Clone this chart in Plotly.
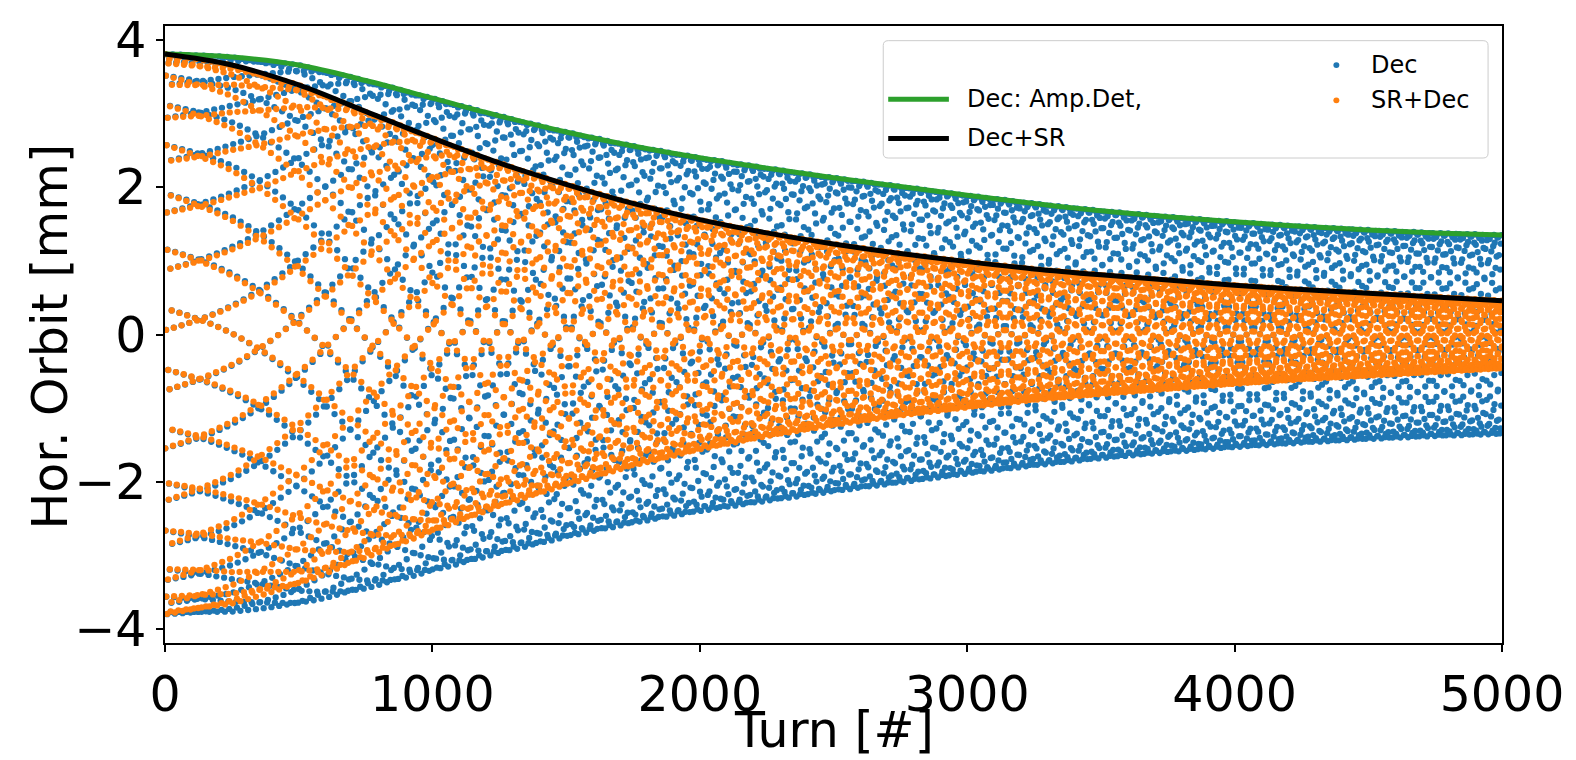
import numpy as np
import plotly.graph_objects as go

# ---- data ----
turns_env = [0, 250, 500, 750, 1000, 1250, 1500, 1750, 2000, 2250, 2500,
             2750, 3000, 3250, 3500, 3750, 4000, 4250, 4500, 4750, 5000]
env_dec = [3.81, 3.77, 3.66, 3.45, 3.21, 2.97, 2.75, 2.56, 2.40, 2.26, 2.13,
           2.01, 1.89, 1.78, 1.68, 1.60, 1.53, 1.47, 1.42, 1.38, 1.35]
env_sr = [3.81, 3.66, 3.39, 3.03, 2.67, 2.33, 2.04, 1.78, 1.56, 1.38, 1.23,
          1.10, 0.99, 0.89, 0.81, 0.74, 0.67, 0.61, 0.56, 0.51, 0.46]
tune_bare = 0.31        # fractional betatron tune
tune_shift0 = 0.0003    # initial (amplitude-detuned) tune shift of the centroid
tau_shift = 700         # turns over which the centroid tune relaxes
phase0 = 0.0062         # initial phase (cycles)
n_turns = 5000
x_ticks = [0, 1000, 2000, 3000, 4000, 5000]
y_ticks = [-4, -2, 0, 2, 4]

turns = np.arange(0, n_turns + 1)
phase = (tune_bare * turns + tune_shift0 * tau_shift * np.arctan(turns / tau_shift)
         + phase0)
osc = np.cos(2 * np.pi * phase)
amp_dec = np.interp(turns, turns_env, env_dec)
amp_sr = np.interp(turns, turns_env, env_sr)
orbit_dec = amp_dec * osc
orbit_sr = amp_sr * osc

# ---- layout geometry (pixels) ----
W, H = 1576, 760
L, R, T, B = 165, 1509, 12, 643
PW, PH = R - L, B - T


def px(x):
    return (x - L) / PW


def py(y):
    return (B - y) / PH


BLUE, ORANGE, GREEN = "#1f77b4", "#ff7f0e", "#2ca02c"
FONT = "DejaVu Sans"

fig = go.Figure()
fig.add_trace(go.Scatter(x=turns, y=orbit_dec, mode="markers", name="Dec",
                         marker=dict(color=BLUE, size=6.3, line=dict(width=0))))
fig.add_trace(go.Scatter(x=turns, y=orbit_sr, mode="markers", name="SR+Dec",
                         marker=dict(color=ORANGE, size=6.3, line=dict(width=0))))
fig.add_trace(go.Scatter(x=turns_env, y=env_dec, mode="lines", name="Dec: Amp.Det,",
                         line=dict(color=GREEN, width=5, shape="spline")))
fig.add_trace(go.Scatter(x=turns_env, y=env_sr, mode="lines", name="Dec+SR",
                         line=dict(color="black", width=5, shape="spline")))

shapes = []
annotations = []

# legend box with rounded corners
x0, x1, y0, y1, r = 887, 1495, 27, 147, 5
path = (f"M {px(x0 + r)},{py(y0)} L {px(x1 - r)},{py(y0)} "
        f"Q {px(x1)},{py(y0)} {px(x1)},{py(y0 + r)} "
        f"L {px(x1)},{py(y1 - r)} Q {px(x1)},{py(y1)} {px(x1 - r)},{py(y1)} "
        f"L {px(x0 + r)},{py(y1)} Q {px(x0)},{py(y1)} {px(x0)},{py(y1 - r)} "
        f"L {px(x0)},{py(y0 + r)} Q {px(x0)},{py(y0)} {px(x0 + r)},{py(y0)} Z")
shapes.append(dict(type="path", xref="paper", yref="paper", path=path,
                   fillcolor="rgba(255,255,255,0.8)", line=dict(color="#cccccc", width=1)))

line_entries = [("Dec: Amp.Det,", GREEN, 87), ("Dec+SR", "black", 127)]
for label, col, yy in line_entries:
    shapes.append(dict(type="line", xref="paper", yref="paper",
                       x0=px(892), x1=px(953), y0=py(yy), y1=py(yy),
                       line=dict(color=col, width=5)))
    annotations.append(dict(xref="paper", yref="paper", x=px(969), y=py(yy),
                            text=label, showarrow=False, xanchor="left", yanchor="middle",
                            font=dict(family=FONT, size=24, color="black")))

dot_entries = [("Dec", BLUE, 52), ("SR+Dec", ORANGE, 88)]
for label, col, yy in dot_entries:
    shapes.append(dict(type="circle", xref="paper", yref="paper",
                       x0=px(1339.5), x1=px(1345.5), y0=py(yy + 3), y1=py(yy - 3),
                       fillcolor=col, line=dict(width=0)))
    annotations.append(dict(xref="paper", yref="paper", x=px(1375), y=py(yy),
                            text=label, showarrow=False, xanchor="left", yanchor="middle",
                            font=dict(family=FONT, size=24, color="black")))

# axis titles
annotations.append(dict(xref="paper", yref="paper", x=0.5, y=py(732),
                        text="Turn [#]", showarrow=False, xanchor="center", yanchor="middle",
                        font=dict(family=FONT, size=49, color="black")))
annotations.append(dict(xref="paper", yref="paper", x=px(50), y=py(330),
                        text="Hor. Orbit [mm]", showarrow=False, textangle=-90,
                        xanchor="center", yanchor="middle",
                        font=dict(family=FONT, size=49, color="black")))

fig.update_layout(
    width=W, height=H,
    margin=dict(l=L, r=W - R, t=T, b=H - B, pad=0),
    paper_bgcolor="white", plot_bgcolor="white",
    showlegend=False,
    shapes=shapes, annotations=annotations,
    font=dict(family=FONT, size=49, color="black"),
)
fig.update_xaxes(range=[0, 5000], tickvals=x_ticks, ticks="outside", ticklen=7,
                 tickwidth=1.5, tickcolor="black", showline=True, linecolor="black",
                 linewidth=1.5, mirror=True, showgrid=False, zeroline=False,
                 tickfont=dict(family=FONT, size=49, color="black"))
fig.update_yaxes(range=[-4.19, 4.19], tickvals=y_ticks, ticks="outside", ticklen=7,
                 tickwidth=1.5, tickcolor="black", showline=True, linecolor="black",
                 linewidth=1.5, mirror=True, showgrid=False, zeroline=False,
                 tickfont=dict(family=FONT, size=49, color="black"))

fig.write_html("out.html")
